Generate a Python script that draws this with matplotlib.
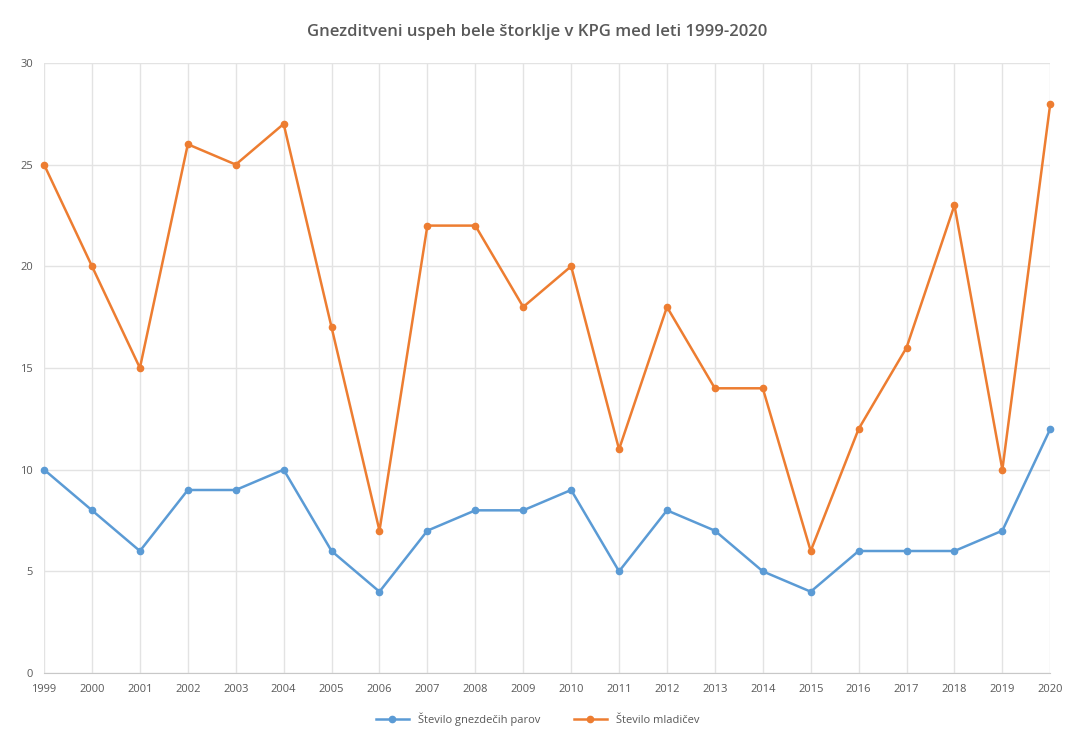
import matplotlib
matplotlib.use("Agg")
import matplotlib.pyplot as plt

years = list(range(1999, 2021))
pari = [10, 8, 6, 9, 9, 10, 6, 4, 7, 8, 8, 9, 5, 8, 7, 5, 4, 6, 6, 6, 7, 12]
mladici = [25, 20, 15, 26, 25, 27, 17, 7, 22, 22, 18, 20, 11, 18, 14, 14, 6, 12, 16, 23, 10, 28]

plt.rcParams["font.family"] = ["Open Sans", "DejaVu Sans"]

fig = plt.figure(figsize=(10.75, 7.4), dpi=100)
ax = fig.add_axes([0.041, 0.0905, 0.936, 0.8245])

ax.plot(years, pari, color="#5B9BD5", marker="o", markersize=4.5,
        linewidth=1.8, label="Število gnezdečih parov", clip_on=False)
ax.plot(years, mladici, color="#ED7D31", marker="o", markersize=4.5,
        linewidth=1.8, label="Število mladičev", clip_on=False)

ax.set_xlim(1999, 2020)
ax.set_ylim(0, 30)
ax.set_xticks(years)
ax.set_xticklabels([str(y) for y in years])
ax.set_yticks(range(0, 31, 5))

# svetla mreža kot v Excelu
ax.grid(True, color="#E3E3E3", linewidth=1)
ax.set_axisbelow(True)
for s in ["top", "right", "left"]:
    ax.spines[s].set_visible(False)
ax.spines["bottom"].set_color("#C8C8C8")
ax.tick_params(axis="both", colors="#595959", labelsize=8, length=0)
ax.tick_params(axis="x", pad=8)
ax.tick_params(axis="y", pad=8)

fig.suptitle("Gnezditveni uspeh bele štorklje v KPG med leti 1999-2020",
             y=0.968, fontsize=12, fontweight="semibold", color="#595959")

fig.legend(loc="lower center", bbox_to_anchor=(0.5, 0.005), ncol=2,
           frameon=False, fontsize=8, labelcolor="#595959",
           handlelength=3, columnspacing=3)

fig.savefig("out.png", dpi=100)
